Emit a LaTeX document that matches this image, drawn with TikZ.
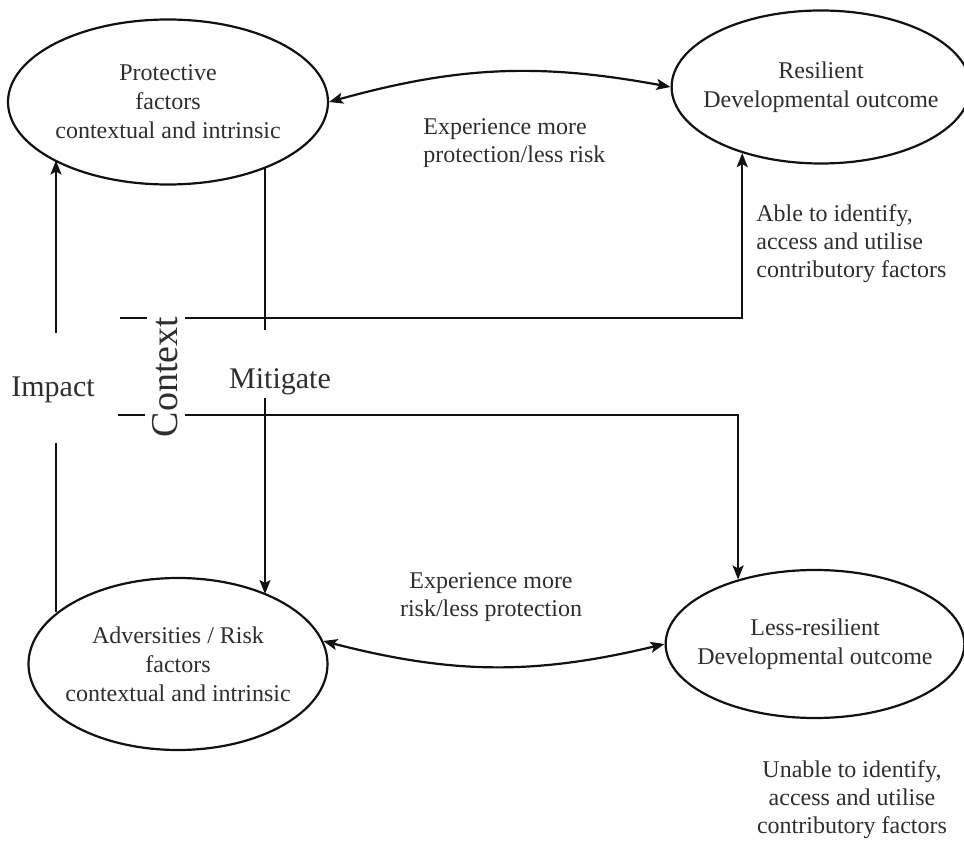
\documentclass[tikz,border=0pt]{standalone}
\usepackage{fontspec}
\setmainfont{Liberation Serif}
\usetikzlibrary{arrows.meta,positioning,shapes.geometric}
\definecolor{resink}{HTML}{111111}
\definecolor{restext}{HTML}{2E2E2E}

\begin{document}
\begin{tikzpicture}[
      x=0.5pt, y=-0.5pt,
      factor/.style={ellipse, draw=resink, line width=1.1pt, inner sep=-6pt, align=center,
                     text=restext, font=\fontsize{12}{14.5}\selectfont},
      note/.style={text=restext, inner sep=0pt, font=\fontsize{12}{14}\selectfont},
      bignote/.style={text=restext, inner sep=0pt, font=\fontsize{15}{18}\selectfont},
      link/.style={line width=1.1pt, resink},
      arr/.style={link, -{Stealth[length=7pt, width=5.5pt, inset=1.5pt]}},
      both/.style={link, {Stealth[length=7pt, width=5.5pt, inset=1.5pt]}-{Stealth[length=7pt, width=5.5pt, inset=1.5pt]}}]
    \useasboundingbox (0,0) rectangle (964,844);
    \node[factor, minimum width=160pt, minimum height=82.5pt] (protect) at (168,102)
      {Protective\\factors\\contextual and intrinsic};
    \node[factor, minimum width=140pt, minimum height=76.5pt] (resilient) at (821,87)
      {Resilient\\Developmental outcome};
    \node[factor, minimum width=149.5pt, minimum height=86pt] (adverse) at (178,664)
      {Adversities / Risk\\factors\\contextual and intrinsic};
    \node[factor, minimum width=140pt, minimum height=74pt] (lessres) at (815,644)
      {Less-resilient\\Developmental outcome};
    % labels
    \node[note, align=left, anchor=west] (morprot) at (423,143) {Experience more\\protection/less risk};
    \node[note, align=center] (morrisk) at (491,597) {Experience more\\risk/less protection};
    \node[note, align=left, anchor=west] (able) at (756,244) {Able to identify,\\access and utilise\\contributory factors};
    \node[note, align=center] (unable) at (852,800) {Unable to identify,\\access and utilise\\contributory factors};
    \node[bignote] (impact) at (53,390) {Impact};
    \node[bignote] (mitigate) at (280,382) {Mitigate};
    \node[text=restext, inner sep=0pt, rotate=90, font=\fontsize{19}{22}\selectfont] (context) at (165,377) {Context};
    % loose ends of the broken lines
    \coordinate (imptop) at (56,333);
    \coordinate (impbot) at (56,443);
    \coordinate (mittop) at (265,330);
    \coordinate (mitbot) at (265,398);
    \coordinate (ctxa) at (120,318);
    \coordinate (ctxb) at (147,318);
    \coordinate (ctxc) at (185,318);
    \coordinate (ctxd) at (118,415);
    \coordinate (ctxe) at (145,415);
    \coordinate (ctxf) at (185,415);
    \draw[both] (protect.east) to[bend left=13] (resilient.west);
    \draw[both] (adverse.9.3) to[bend right=14] (lessres.west);
    \draw[arr] (imptop) -- (imptop |- protect.207.7);
    \draw[link] (impbot) -- (impbot |- adverse.157.35);
    \draw[link] (mittop |- protect.-34.1) -- (mittop);
    \draw[arr] (mitbot) -- (mitbot |- adverse.38.8);
    \draw[link] (ctxa) -- (ctxb);
    \draw[arr] (ctxc) -| (resilient.220.2);
    \draw[link] (ctxd) -- (ctxe);
    \draw[arr] (ctxf) -| (lessres.140.2);
  \end{tikzpicture}
\end{document}
